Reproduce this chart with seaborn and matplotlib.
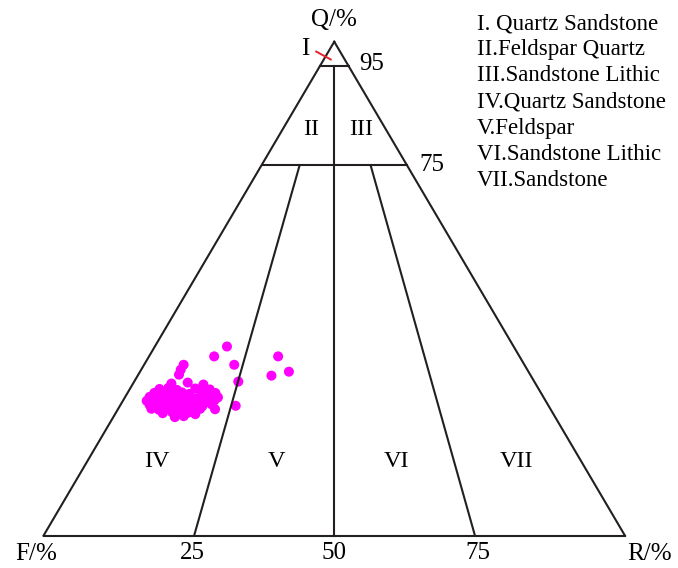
import numpy as np
import pandas as pd
import matplotlib
matplotlib.use('Agg')
import matplotlib.pyplot as plt
import seaborn as sns

# sample compositions (Q = quartz %, R = rock fragments %, F = rest)
q_vals = [38.3, 36.3, 34.6, 31.2, 26.3, 36.3, 32.4, 33.2, 34.6, 33.6, 32.6,
          30.8, 31.0, 30.6,
          29.7, 29.9, 29.5, 29.8, 29.6,
          28.9, 29.1, 28.8, 29.0, 28.7, 29.2, 28.9,
          28.1, 28.3, 27.9, 28.2, 28.0, 28.4, 27.8, 28.1, 28.3, 28.0,
          27.3, 27.1, 27.5, 27.2, 27.4, 27.0, 27.3, 27.6, 27.2, 27.4,
          26.5, 26.7, 26.3, 26.6, 26.4, 26.8, 26.5, 26.2, 26.6,
          25.7, 25.5, 25.9, 25.6, 25.8, 25.4, 25.7, 25.6,
          24.8, 25.0, 24.7, 24.9, 24.6,
          24.0, 24.2]
r_vals = [12.4, 11.2, 15.5, 17.9, 19.9, 22.2, 23.0, 25.6, 6.8, 6.8, 7.0,
          6.6, 9.3, 12.2,
          5.1, 6.5, 8.2, 11.2, 13.8,
          4.6, 6.4, 7.6, 9.3, 10.7, 12.5, 15.1,
          4.2, 5.6, 7.0, 8.3, 9.6, 10.8, 12.2, 13.7, 14.9, 16.0,
          4.1, 5.3, 6.7, 8.0, 9.3, 10.7, 11.9, 13.1, 14.5, 15.7,
          5.0, 6.4, 7.8, 9.0, 10.2, 11.6, 12.8, 14.2, 15.6,
          5.7, 7.1, 8.5, 9.9, 11.3, 12.7, 14.1, 16.7,
          8.1, 9.6, 11.0, 12.4, 13.8,
          10.6, 12.0]

legend_lines = ['I. Quartz Sandstone', 'II.Feldspar Quartz', 'III.Sandstone Lithic',
                'IV.Quartz Sandstone', 'V.Feldspar', 'VI.Sandstone Lithic', 'VII.Sandstone']
base_ticks = ['25', '50', '75']
field_labels = ['IV', 'V', 'VI', 'VII']


def to_xy(q, r):
    q = np.asarray(q, dtype=float)
    r = np.asarray(r, dtype=float)
    return r + q / 2.0, q


plt.rcParams['font.family'] = ['Liberation Serif', 'DejaVu Serif']

fig = plt.figure(figsize=(6.78, 5.68), dpi=100)
ax = fig.add_axes([43.5 / 678, 32.3 / 568, 581.5 / 678, 494 / 568])
ax.set_xlim(0, 100)
ax.set_ylim(0, 100)

lc = '#231f20'
lw = 1.5
# (Q, R) endpoints of the frame and field boundaries
segments = [
    [(0, 0), (0, 100)], [(0, 100), (100, 0)], [(100, 0), (0, 0)],
    [(95, 0), (95, 5)],
    [(75, 0), (75, 25)],
    [(95, 2.5), (0, 50)],
    [(75, 6.55), (0, 25.9)],
    [(75, 18.75), (0, 74.2)],
]
for (q1, r1), (q2, r2) in segments:
    xs, ys = to_xy([q1, q2], [r1, r2])
    ax.plot(xs, ys, color=lc, lw=lw, solid_capstyle='projecting', clip_on=False)

# red pointer to field I
xs, ys = to_xy([98.0, 96.4], [-2.1, 1.2])
ax.plot(xs, ys, color='#e8202a', lw=1.4, clip_on=False)

px, py = to_xy(q_vals, r_vals)
df = pd.DataFrame({'x': px, 'y': py})
sns.scatterplot(data=df, x='x', y='y', ax=ax, color='#ff00ff', s=52,
                edgecolor='none', clip_on=False, legend=False)
ax.set_xlabel('')
ax.set_ylabel('')
ax.axis('off')

fs = 18
ax.text(50, 104.3, 'Q/%', fontsize=fs, ha='center', va='center')
ax.text(45.1, 98.6, 'I', fontsize=fs, ha='center', va='center')
ax.text(54.3, 95.4, '95', fontsize=fs, ha='left', va='center')
ax.text(64.7, 75.0, '75', fontsize=fs, ha='left', va='center')
ax.text(46.0, 82.2, 'II', fontsize=17.5, ha='center', va='center')
ax.text(54.6, 82.2, 'III', fontsize=17.5, ha='center', va='center')
for lab, xx in zip(field_labels, [19.5, 40.0, 60.7, 81.4]):
    ax.text(xx, 15.0, lab, fontsize=17.5, ha='center', va='center')
ax.text(-1.3, -3.8, 'F/%', fontsize=fs, ha='center', va='center')
ax.text(104.3, -3.8, 'R/%', fontsize=fs, ha='center', va='center')
for lab, xx in zip(base_ticks, [25.6, 50.0, 74.7]):
    ax.text(xx, -3.6, lab, fontsize=fs, ha='center', va='center')

for i, line in enumerate(legend_lines):
    fig.text(477 / 678, 1 - (29.3 + i * 26.07) / 568, line, fontsize=16.5,
             ha='left', va='baseline')

fig.savefig('out.png', dpi=100)
